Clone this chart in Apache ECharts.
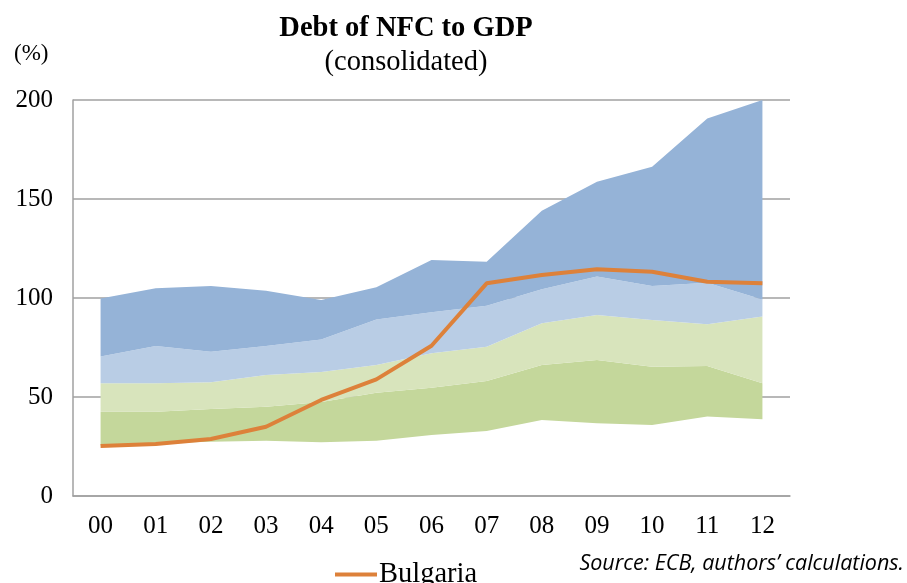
<!DOCTYPE html>
<html>
<head>
<meta charset="utf-8">
<script src="https://cdn.jsdelivr.net/npm/echarts@6/dist/echarts.min.js"></script>
<style>
  html, body { margin: 0; padding: 0; background: #fff; }
  #main { width: 907px; height: 583px; }
</style>
</head>
<body>
<div id="main"></div>
<script>
let years = ['00', '01', '02', '03', '04', '05', '06', '07', '08', '09', '10', '11', '12'];
let yTicks = [0, 50, 100, 150, 200];

// band boundaries (lowest to highest), % of GDP
let minVals = [25.5, 26.6, 27.4, 27.9, 27.1, 27.9, 30.8, 32.8, 38.4, 36.7, 35.9, 40.1, 38.7];
let q1Vals = [42.6, 42.6, 43.9, 45.1, 47.5, 52.2, 54.7, 58.1, 66.2, 68.7, 65.3, 65.7, 56.9];
let medVals = [56.9, 56.9, 57.4, 61.1, 62.6, 66.2, 72.1, 75.4, 87.2, 91.4, 88.9, 86.7, 90.6];
let q3Vals = [70.4, 75.8, 72.9, 75.8, 79.1, 89.2, 92.8, 96.1, 104.4, 110.8, 106.1, 107.7, 99.3];
let maxVals = [99.8, 104.9, 106, 103.7, 99, 105.4, 119.2, 118.3, 144.1, 158.7, 166.3, 190.7, 200];
let bulgaria = [25.3, 26.3, 28.8, 35, 48.5, 58.9, 75.9, 107.4, 111.6, 114.5, 113.3, 108.2, 107.4];

let diff = (upper, lower) => upper.map((v, i) => +(v - lower[i]).toFixed(2));

let chart = echarts.init(document.getElementById('main'), null, {renderer: 'canvas'});

let band = (name, data, color) => ({
    type: 'line',
    name: name,
    stack: 'range',
    data: data,
    symbol: 'none',
    lineStyle: {width: 0, opacity: 0},
    areaStyle: {color: color, opacity: 1},
    silent: true
});

let option = {
    animation: false,
    title: {
        text: 'Debt of NFC to GDP',
        subtext: '(consolidated)',
        left: 401,
        top: 9,
        textAlign: 'center',
        itemGap: 5,
        textStyle: {
            fontFamily: 'Liberation Serif',
            fontWeight: 'bold',
            fontSize: 28.5,
            color: '#000'
        },
        subtextStyle: {
            fontFamily: 'Liberation Serif',
            fontSize: 28.5,
            color: '#000'
        }
    },
    graphic: [
        {
            type: 'text',
            left: 14,
            top: 42,
            style: {
                text: '(%)',
                font: '23px "Liberation Serif"',
                fill: '#000'
            }
        },
        {
            type: 'text',
            right: 3,
            top: 553,
            style: {
                text: 'Source: ECB, authors’ calculations.',
                font: 'italic 21.5px "Open Sans"',
                fill: '#000'
            }
        }
    ],
    legend: {
        data: [{name: 'Bulgaria', icon: 'rect'}],
        left: 330,
        top: 555,
        itemWidth: 42,
        itemHeight: 4,
        itemGap: 4,
        textStyle: {
            fontFamily: 'Liberation Serif',
            fontSize: 28.5,
            color: '#000',
            padding: [0, 0, 0, -3]
        }
    },
    grid: {
        left: 73,
        right: 117,
        top: 100,
        bottom: 87
    },
    xAxis: {
        type: 'category',
        data: years,
        boundaryGap: true,
        axisLine: {show: true, lineStyle: {color: '#a0a0a0', width: 1.5}},
        axisTick: {show: false},
        axisLabel: {
            margin: 18,
            fontFamily: 'Liberation Serif',
            fontSize: 25,
            color: '#000'
        }
    },
    yAxis: {
        type: 'value',
        min: yTicks[0],
        max: yTicks[yTicks.length - 1],
        interval: 50,
        axisLine: {show: true, lineStyle: {color: '#a0a0a0', width: 1.5}},
        axisTick: {show: false},
        splitLine: {show: true, lineStyle: {color: '#a0a0a0', width: 1.5}},
        axisLabel: {
            margin: 20,
            fontFamily: 'Liberation Serif',
            fontSize: 25,
            color: '#000'
        }
    },
    series: [
        {
            type: 'line',
            name: 'base',
            stack: 'range',
            data: minVals,
            symbol: 'none',
            lineStyle: {width: 0, opacity: 0},
            silent: true
        },
        band('band1', diff(q1Vals, minVals), '#c4d79b'),
        band('band2', diff(medVals, q1Vals), '#d8e4bc'),
        band('band3', diff(q3Vals, medVals), '#b9cde5'),
        band('band4', diff(maxVals, q3Vals), '#95b3d7'),
        {
            type: 'line',
            name: 'Bulgaria',
            data: bulgaria,
            symbol: 'none',
            color: '#dd813a',
            lineStyle: {width: 4, color: '#dd813a'},
            z: 5
        }
    ]
};

chart.setOption(option);
</script>
</body>
</html>
